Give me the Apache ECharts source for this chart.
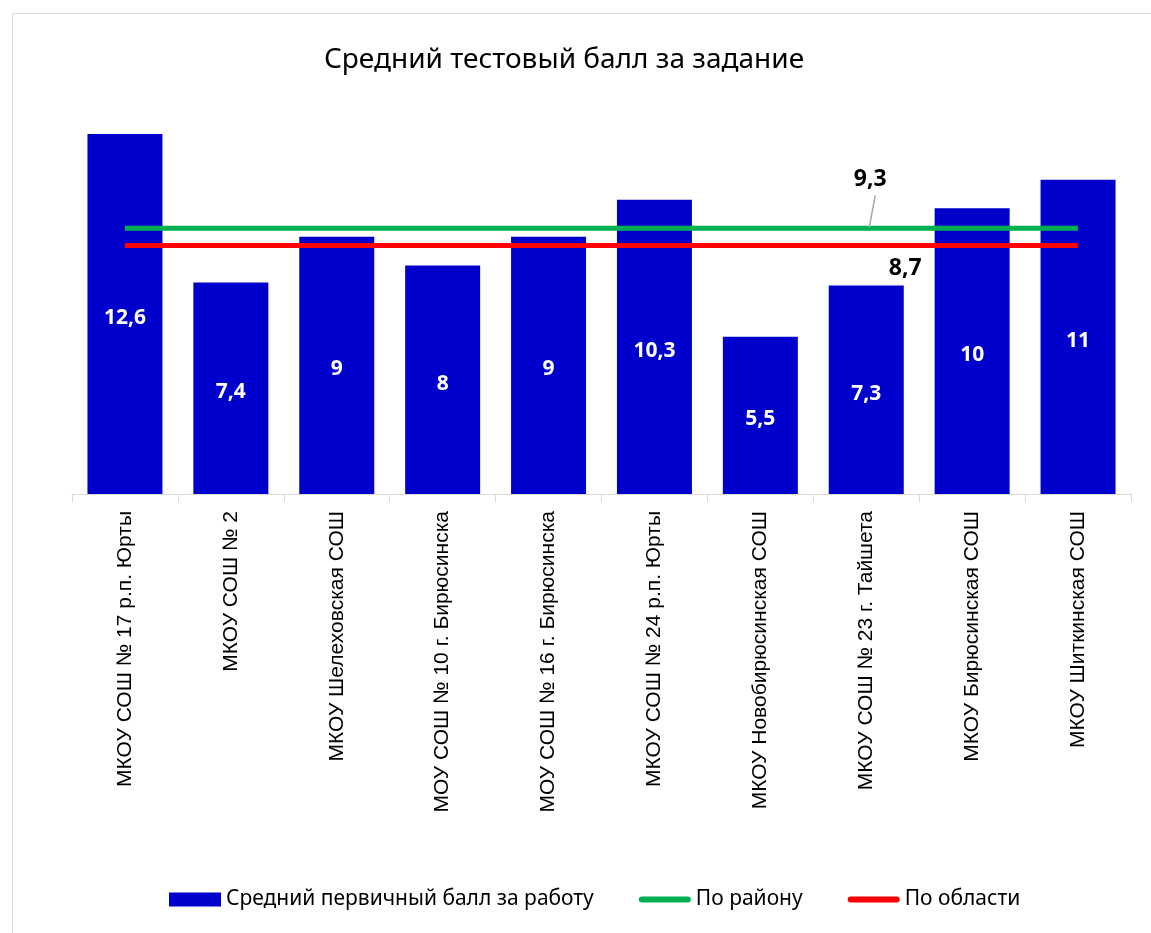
<!DOCTYPE html>
<html><head><meta charset="utf-8">
<script src="https://cdn.jsdelivr.net/npm/echarts@6/dist/echarts.min.js"></script>
<style>html,body{margin:0;padding:0;background:#fff}#c{width:1151px;height:933px}</style>
</head><body><div id="c"></div>
<script>
const categories = ['МКОУ СОШ № 17 р.п. Юрты','МКОУ СОШ № 2','МКОУ Шелеховская СОШ','МОУ СОШ № 10 г. Бирюсинска','МОУ СОШ № 16 г. Бирюсинска','МКОУ СОШ № 24 р.п. Юрты','МКОУ Новобирюсинская СОШ','МКОУ СОШ № 23 г. Тайшета','МКОУ Бирюсинская СОШ','МКОУ Шиткинская СОШ'];
const schoolScores = [12.6, 7.4, 9, 8, 9, 10.3, 5.5, 7.3, 10, 11];
const districtAvg = 9.3;
const regionAvg = 8.7;
const labelIndex = 7;
const seriesNames = ['Средний первичный балл за работу','По району','По области'];
const fmt = v => String(v).replace('.', ',');
const FONT = 'Noto Sans';
const AXFONT = 'Liberation Sans';
const lineIcon = 'path://M3,0 H49 A3,3 0 0 1 49,6 H3 A3,3 0 0 1 3,0 Z';

const mkLine = (val, labelCfg) => categories.map((c, i) => i === labelIndex ? {value: val, label: labelCfg} : {value: val});

const chart = echarts.init(document.getElementById('c'), null, {renderer: 'canvas'});
chart.setOption({
  animation: false,
  backgroundColor: '#fff',
  graphic: [{type: 'rect', shape: {x: 12.5, y: 13.5, width: 1150, height: 930}, style: {fill: 'none', stroke: '#d9d9d9', lineWidth: 1}, silent: true}],
  title: {text: 'Средний тестовый балл за задание', left: 559, top: 41, textAlign: 'center',
    textStyle: {fontFamily: FONT, fontSize: 28, fontWeight: 'normal', color: '#000'}},
  legend: {bottom: 18, left: 164, itemGap: 45, itemWidth: 52, itemHeight: 14,
    textStyle: {fontFamily: FONT, fontSize: 21, color: '#000'},
    data: [{name: seriesNames[0], icon: 'rect'},
           {name: seriesNames[1], icon: lineIcon, itemStyle: {color: '#00B050'}},
           {name: seriesNames[2], icon: lineIcon, itemStyle: {color: '#FF0000'}}]},
  grid: {left: 72, right: 20, top: 94, bottom: 439, containLabel: false},
  xAxis: {type: 'category', data: categories,
    axisLine: {lineStyle: {color: '#d9d9d9', width: 1}},
    axisTick: {show: true, length: 8, lineStyle: {color: '#d9d9d9'}},
    axisLabel: {rotate: 90, margin: 17, fontFamily: AXFONT, fontSize: 21, color: '#000', interval: 0}},
  yAxis: {type: 'value', min: 0, max: 14, show: false, splitLine: {show: false}},
  series: [
    {name: seriesNames[0], type: 'bar', data: schoolScores, barWidth: 75, itemStyle: {color: '#0000CC'},
      label: {show: true, position: 'inside', offset: [0, 4], color: '#fff', fontFamily: FONT, fontWeight: 'bold', fontSize: 21, formatter: p => fmt(p.value)}},
    {name: seriesNames[1], type: 'line', symbol: 'circle', symbolSize: 0, showSymbol: true, lineStyle: {color: '#00B050', width: 5}, itemStyle: {color: '#00B050'},
      data: mkLine(districtAvg, {show: true, position: 'top', distance: 37, offset: [4, 0], color: '#000', fontFamily: FONT, fontWeight: 'bold', fontSize: 23, formatter: p => fmt(p.value)})},
    {name: seriesNames[2], type: 'line', symbol: 'circle', symbolSize: 0, showSymbol: true, lineStyle: {color: '#FF0000', width: 5}, itemStyle: {color: '#FF0000'},
      data: mkLine(regionAvg, {show: true, position: 'bottom', distance: 12, offset: [39, 0], color: '#000', fontFamily: FONT, fontWeight: 'bold', fontSize: 23, formatter: p => fmt(p.value)})}
  ]
});
const pt = chart.convertToPixel({seriesIndex: 1}, [labelIndex, districtAvg]);
chart.setOption({graphic: [
  {type: 'rect', shape: {x: 12.5, y: 13.5, width: 1150, height: 930}, style: {fill: 'none', stroke: '#d9d9d9', lineWidth: 1}, silent: true},
  {type: 'line', shape: {x1: pt[0] + 3, y1: pt[1] - 1, x2: pt[0] + 9, y2: pt[1] - 33}, style: {stroke: '#a6a6a6', lineWidth: 1.5}, silent: true, z: 5}
]});
</script></body></html>
